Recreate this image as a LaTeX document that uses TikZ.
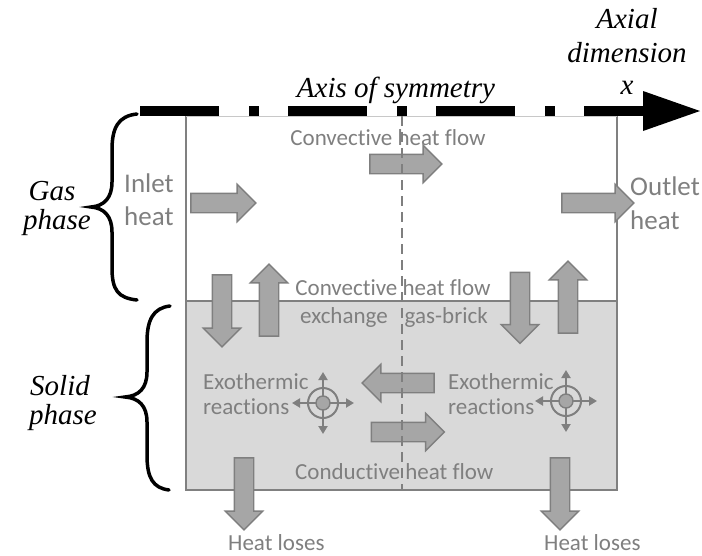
\documentclass[tikz,border=0pt]{standalone}
\usepackage{fontspec}
\setmainfont{Liberation Serif}
\newfontfamily\carl[Ligatures=NoCommon]{Carlito}
\usetikzlibrary{shapes.arrows,arrows.meta}
\definecolor{txtgray}{HTML}{7F7F7F}
\definecolor{arrfill}{HTML}{A6A6A6}
\definecolor{arrdraw}{HTML}{7F7F7F}
\definecolor{solidfill}{HTML}{D9D9D9}
\definecolor{wallgray}{HTML}{808080}
\definecolor{toplinegray}{HTML}{C8C8C8}
\tikzset{
  blockarrow/.style={single arrow, draw=arrdraw, fill=arrfill, line width=1.4pt,
    inner xsep=0pt, inner ysep=9pt, outer sep=0pt, single arrow head extend=9pt,
    single arrow tip angle=90, minimum height=#1, anchor=center},
  smalltxt/.style={font=\carl\fontsize{23}{26}\selectfont, text=txtgray, inner sep=0pt},
  bigtxt/.style={font=\carl\fontsize{27}{32}\selectfont, text=txtgray, inner sep=0pt},
  serif/.style={font=\fontsize{29}{30}\selectfont\itshape, text=black, inner sep=0pt},
  wall/.style={draw=wallgray, line width=2pt},
  axisline/.style={line width=10pt, dash pattern=on 79pt off 30pt on 10pt off 29pt},
  centerline/.style={draw=txtgray, line width=2pt, dash pattern=on 10pt off 6pt},
  bracepath/.style={line width=3.5pt, line cap=round},
  ring/.style={circle, draw=txtgray, line width=2pt, minimum size=30pt, inner sep=0pt},
  ringdot/.style={circle, draw=txtgray, fill=arrfill, line width=1.4pt, minimum size=14pt, inner sep=0pt},
  crossarrow/.style={draw=txtgray, line width=2pt, -{Triangle[length=8pt,width=9pt]}}
}
\begin{document}
\begin{tikzpicture}[x=1pt,y=-1pt]
\useasboundingbox (0,0) rectangle (702,555);
% solid region and box
\coordinate (bTL) at (186,116);
\coordinate (bTR) at (617,116);
\coordinate (bML) at (186,301);
\coordinate (bMR) at (617,301);
\coordinate (bBR) at (617,490);
\fill[solidfill] (bML) rectangle (bBR);
\draw[wall] (bML) rectangle (bBR);
\draw[wall] (bTL) -- (bML);
\draw[wall] (bTR) -- (bMR);
\draw[draw=toplinegray, line width=1pt] (bTL) -- (bTR);
% axis
\coordinate (axs) at (140,111);
\coordinate (axe) at (645,111);
\draw[axisline] (axs) -- (axe);
\fill[black] (643,91) -- (700,111) -- (643,131) -- cycle;
% block arrows
\node[blockarrow=72pt] (gasTop) at (401,164) {};
\node[blockarrow=65pt] (inletA) at (218.5,203) {};
\node[blockarrow=72pt] (outletA) at (593,203) {};
\node[blockarrow=72pt, rotate=-90] (downL) at (222,306) {};
\node[blockarrow=72pt, rotate=90] (upL) at (269,305) {};
\node[blockarrow=71pt, rotate=-90] (downR) at (520,303) {};
\node[blockarrow=72pt, rotate=90] (upR) at (568,302) {};
\node[blockarrow=72pt, rotate=180] (solLeft) at (403,383) {};
\node[blockarrow=73pt] (solRight) at (403,432) {};
\node[blockarrow=72pt, rotate=-90] (lossL) at (244,489) {};
\node[blockarrow=72pt, rotate=-90] (lossR) at (560,489) {};
% center dashed line
\coordinate (cTop) at (402,116);
\coordinate (cBot) at (402,490);
\draw[centerline] (cTop) -- (cBot);
% targets
\node[ring] (tg1) at (323,403) {};
\draw[crossarrow] (tg1.center) -- ++(0,-31);
\draw[crossarrow] (tg1.center) -- ++(0,31);
\draw[crossarrow] (tg1.center) -- ++(-31,0);
\draw[crossarrow] (tg1.center) -- ++(31,0);
\node[ringdot] (td1) at (tg1.center) {};
\node[ring] (tg2) at (566,401) {};
\draw[crossarrow] (tg2.center) -- ++(0,-31);
\draw[crossarrow] (tg2.center) -- ++(0,31);
\draw[crossarrow] (tg2.center) -- ++(-31,0);
\draw[crossarrow] (tg2.center) -- ++(31,0);
\node[ringdot] (td2) at (tg2.center) {};
% gray texts
\node[smalltxt, anchor=base] (t1) at (388,145) {Convective heat flow};
\node[bigtxt, anchor=base west] (t2) at (124,192) {Inlet};
\node[bigtxt, anchor=base west] (t3) at (124,225) {heat};
\node[bigtxt, anchor=base west] (t4) at (630,195) {Outlet};
\node[bigtxt, anchor=base west] (t5) at (630,229) {heat};
\node[smalltxt, anchor=base] (t6) at (393,295) {Convective heat flow};
\node[smalltxt, anchor=base west] (t7) at (300,323) {exchange\hspace{17pt}gas-brick};
\node[smalltxt, anchor=base west] (t8) at (203,389) {Exothermic};
\node[smalltxt, anchor=base west] (t9) at (203,414) {reactions};
\node[smalltxt, anchor=base west] (t10) at (448,389) {Exothermic};
\node[smalltxt, anchor=base west] (t11) at (448,414) {reactions};
\node[smalltxt, anchor=base west] (t12) at (295,479) {Conductive heat flow};
\node[smalltxt, anchor=base west] (t13) at (228,550) {Heat loses};
\node[smalltxt, anchor=base west] (t14) at (544,550) {Heat loses};
% serif texts
\node[serif, anchor=base] (s1) at (396,97) {Axis of symmetry};
\node[serif, anchor=base] (s2) at (627,28) {Axial};
\node[serif, anchor=base] (s3) at (627,62) {dimension};
\node[serif, anchor=base] (s4) at (627,94) {x};
\node[serif, anchor=base] (s5) at (52,200) {Gas};
\node[serif, anchor=base] (s6) at (57,229) {phase};
\node[serif, anchor=base] (s7) at (60,395) {Solid};
\node[serif, anchor=base] (s8) at (63,424) {phase};
% braces
\draw[bracepath] (137,114) .. controls (118,116) and (112,128) .. (112,150) -- (112,182)
  .. controls (112,198) and (104,206) .. (91,207) .. controls (104,208) and (112,216) .. (112,232)
  -- (112,268) .. controls (112,290) and (118,298) .. (137,300);
\draw[bracepath] (170,306) .. controls (153,308) and (147,320) .. (147,342) -- (147,372)
  .. controls (147,388) and (139,396) .. (125,397) .. controls (139,398) and (147,406) .. (147,422)
  -- (147,455) .. controls (147,478) and (153,488) .. (169,490);
\end{tikzpicture}
\end{document}
